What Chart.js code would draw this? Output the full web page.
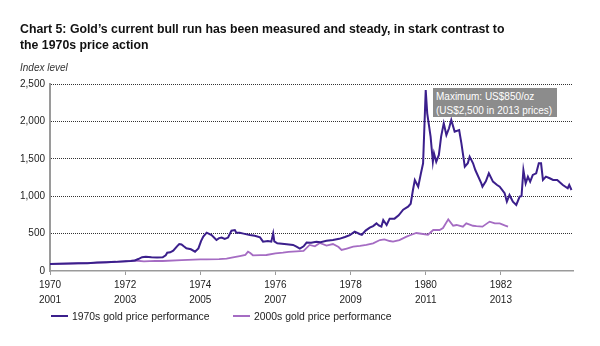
<!DOCTYPE html>
<html>
<head>
<meta charset="utf-8">
<script src="https://cdn.jsdelivr.net/npm/chart.js@4/dist/chart.umd.min.js"></script>
<style>
  html, body { margin: 0; padding: 0; background: #fff; }
  #wrap { position: relative; width: 600px; height: 346px; overflow: hidden; font-family: "Liberation Sans", Arial, Helvetica, sans-serif; }
  #chart { position: absolute; left: 0; top: 0; }
  #title { position: absolute; left: 20px; top: 21px; font-size: 12.3px; font-weight: bold; line-height: 16px; color: #111; white-space: nowrap; }
  #unit { position: absolute; left: 20px; top: 62px; font-size: 10px; font-style: italic; color: #333; }
  #note { position: absolute; left: 433px; top: 88px; width: 118px; height: 26px; padding: 2px 3px 1px 3px; background: #8c8c8c; color: #fff; font-size: 10px; line-height: 13.5px; white-space: nowrap; }
  .leg { position: absolute; top: 311px; font-size: 10.4px; color: #222; white-space: nowrap; line-height: 12px; }
  .leg i { display: inline-block; width: 17px; height: 2px; vertical-align: middle; margin-right: 4px; position: relative; top: -1px; }
</style>
</head>
<body>
<div id="wrap">
  <canvas id="chart" width="600" height="346"></canvas>
  <div id="title">Chart 5: Gold’s current bull run has been measured and steady, in stark contrast to<br>the 1970s price action</div>
  <div id="unit">Index level</div>
  <div id="note">Maximum: US$850/oz<br>(US$2,500 in 2013 prices)</div>
  <div id="legend"></div>
</div>
<script>
// x labels: top row = 1970s cycle, bottom row = 2000s cycle
const xTicksTop = [1970, 1972, 1974, 1976, 1978, 1980, 1982];
const xTicksBottom = [2001, 2003, 2005, 2007, 2009, 2011, 2013];
const yTicks = [0, 500, 1000, 1500, 2000, 2500];

const seriesNames = ["1970s gold price performance", "2000s gold price performance"];
const seriesColors = ["#3b1f8c", "#a56cc3"];

// 1970s run (time in years on the 1970s axis, index level)
const seventiesYears = [
  1970.0, 1970.25, 1970.5, 1970.75, 1971.0, 1971.25, 1971.5, 1971.75, 1972.0, 1972.15,
  1972.26, 1972.35, 1972.45, 1972.55, 1972.7, 1972.85, 1973.0, 1973.08, 1973.12, 1973.2,
  1973.28, 1973.38, 1973.44, 1973.5, 1973.56, 1973.63, 1973.75, 1973.86, 1973.95, 1974.02,
  1974.08, 1974.17, 1974.3, 1974.43, 1974.5, 1974.57, 1974.65, 1974.74, 1974.83, 1974.92,
  1974.96, 1975.05, 1975.15, 1975.32, 1975.45, 1975.59, 1975.67, 1975.8, 1975.89, 1975.94,
  1975.97, 1976.05, 1976.3, 1976.47, 1976.56, 1976.65, 1976.75, 1976.83, 1976.95, 1977.09,
  1977.2, 1977.36, 1977.53, 1977.7, 1977.85, 1977.98, 1978.11, 1978.24, 1978.3, 1978.4,
  1978.51, 1978.6, 1978.69, 1978.75, 1978.82, 1978.87, 1978.96, 1979.04, 1979.17, 1979.28,
  1979.4, 1979.53, 1979.6, 1979.66, 1979.71, 1979.8, 1979.87, 1979.93, 1980.0, 1980.04,
  1980.13, 1980.19, 1980.22, 1980.28, 1980.35, 1980.41, 1980.48, 1980.55, 1980.62, 1980.68,
  1980.77, 1980.89, 1980.95, 1981.04, 1981.12, 1981.17, 1981.26, 1981.32, 1981.48, 1981.51,
  1981.6, 1981.68, 1981.79, 1981.9, 1981.97, 1982.1, 1982.16, 1982.23, 1982.32, 1982.41,
  1982.5, 1982.55, 1982.6, 1982.66, 1982.72, 1982.78, 1982.85, 1982.94, 1983.01, 1983.07,
  1983.12, 1983.2, 1983.3, 1983.39, 1983.5, 1983.65, 1983.78, 1983.82, 1983.88
];
const seventiesIndex = [
  95, 97, 100, 102, 105, 112, 118, 122, 130, 135,
  140, 160, 185, 192, 185, 180, 183, 210, 245, 250,
  272, 330, 361, 355, 330, 303, 290, 258, 303, 400,
  459, 512, 481, 414, 440, 447, 430, 447, 539, 548,
  512, 512, 500, 481, 470, 450, 392, 400, 392, 504,
  395, 370, 357, 348, 325, 300, 330, 380, 378, 392,
  385, 405, 414, 430, 455, 480, 526, 495, 485, 540,
  580, 600, 637, 610, 593, 682, 615, 700, 700, 745,
  820, 860, 900, 1083, 1217, 1128, 1300, 1440, 2420, 2108,
  1796, 1461, 1573, 1461, 1552, 1796, 1975, 1818, 1908, 2019,
  1863, 1885, 1707, 1395, 1440, 1529, 1440, 1350, 1172, 1128,
  1200, 1306, 1195, 1150, 1128, 1039, 927, 1017, 927, 883,
  994, 1000, 1350, 1172, 1261, 1195, 1284, 1306, 1440, 1440,
  1217, 1261, 1240, 1217, 1217, 1150, 1106, 1150, 1083
];

// 2000s run (same axis, shifted by 31 years)
const twoThousandsYears = [
  1970.0, 1970.5, 1971.0, 1971.5, 1972.0, 1972.26, 1972.5, 1972.8, 1973.0, 1973.5,
  1974.0, 1974.17, 1974.5, 1974.7, 1974.87, 1975.05, 1975.2, 1975.27, 1975.33, 1975.4,
  1975.6, 1975.76, 1976.0, 1976.2, 1976.35, 1976.56, 1976.75, 1976.91, 1977.05, 1977.18,
  1977.36, 1977.53, 1977.68, 1977.76, 1977.9, 1978.07, 1978.25, 1978.42, 1978.6, 1978.78,
  1978.9, 1979.04, 1979.13, 1979.3, 1979.49, 1979.6, 1979.75, 1980.06, 1980.2, 1980.37,
  1980.46, 1980.6, 1980.73, 1980.82, 1980.99, 1981.08, 1981.26, 1981.35, 1981.51, 1981.7,
  1981.84, 1981.97, 1982.1, 1982.19
];
const twoThousandsIndex = [
  95, 98, 105, 115, 128, 140, 130, 135, 134, 145,
  155, 156, 160, 165, 183, 200, 215, 258, 240, 210,
  212, 214, 235, 245, 255, 262, 270, 348, 330, 375,
  340, 360, 320, 281, 300, 325, 335, 348, 370, 414,
  423, 401, 392, 414, 459, 481, 508, 485, 548, 548,
  575, 690, 605, 615, 593, 637, 605, 600, 593, 660,
  637, 637, 610, 593
];

const seriesYears = [seventiesYears, twoThousandsYears];
const seriesIndex = [seventiesIndex, twoThousandsIndex];

const datasets = seriesNames.map((name, s) => ({
  label: name,
  data: seriesYears[s].map((x, i) => ({ x: x, y: seriesIndex[s][i] })),
  borderColor: seriesColors[s],
  borderWidth: s === 0 ? 2 : 1.8,
  pointRadius: 0,
  tension: 0,
  order: s === 0 ? 0 : 1
}));

// legend (html)
const legendPos = [51, 233];
const legend = document.getElementById("legend");
seriesNames.forEach((name, s) => {
  const d = document.createElement("div");
  d.className = "leg";
  d.style.left = legendPos[s] + "px";
  d.innerHTML = '<i style="background:' + seriesColors[s] + '"></i>' + name;
  legend.appendChild(d);
});

const font = { family: "'Liberation Sans', Arial, Helvetica, sans-serif", size: 10 };

new Chart(document.getElementById("chart").getContext("2d"), {
  type: "line",
  data: { datasets: datasets },
  options: {
    responsive: false,
    animation: false,
    devicePixelRatio: 1,
    layout: { padding: { top: 84, right: 27, bottom: 35, left: 0 } },
    plugins: { legend: { display: false }, tooltip: { enabled: false } },
    scales: {
      x: {
        type: "linear",
        min: 1970,
        max: 1983.92,
        afterBuildTicks: axis => { axis.ticks = xTicksTop.map(v => ({ value: v })); },
        afterFit: axis => { axis.height = 40; },
        ticks: {
          color: "#222",
          font: Object.assign({ lineHeight: 1.45 }, font),
          padding: 3,
          maxRotation: 0,
          autoSkip: false,
          callback: (v, i) => [String(xTicksTop[i]), String(xTicksBottom[i])]
        },
        grid: { drawOnChartArea: false, drawTicks: true, tickLength: 4, color: "#9a9a9a", lineWidth: 1 },
        border: { display: true, color: "#9a9a9a", width: 1.5 }
      },
      y: {
        min: 0,
        max: 2500,
        afterBuildTicks: axis => { axis.ticks = yTicks.map(v => ({ value: v })); },
        afterFit: axis => { axis.width = 50; },
        ticks: {
          color: "#222",
          font: font,
          padding: 5,
          callback: v => v.toLocaleString("en-US")
        },
        grid: {
          drawTicks: false,
          lineWidth: 1,
          color: ctx => (ctx.tick && ctx.tick.value === 0) ? "rgba(0,0,0,0)" : "#333"
        },
        border: { display: true, color: "#9a9a9a", width: 2, dash: [1, 1] }
      }
    }
  }
});
</script>
</body>
</html>
